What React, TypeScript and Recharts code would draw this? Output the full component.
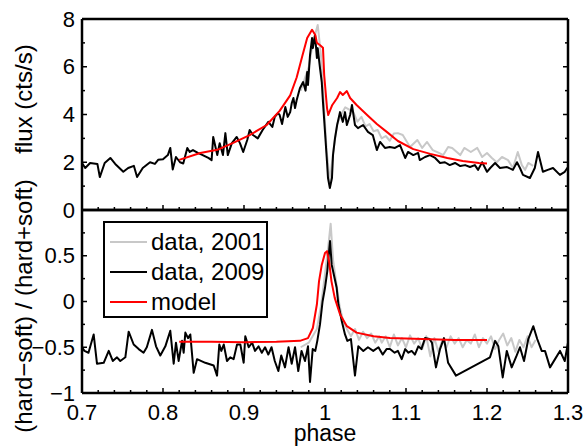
import React from 'react';
import { LineChart, Line, XAxis, YAxis } from 'recharts';

// phase / value pairs
const flux2001: [number, number][] = [
  [0.97, 5.0], [0.975, 5.5], [0.98, 6.0], [0.985, 7.0], [0.991, 7.75], [0.995, 6.5], [0.998, 4.8],
  [1.002, 2.5], [1.006, 1.2], [1.01, 2.4], [1.015, 3.6], [1.02, 4.0], [1.025, 4.3], [1.03, 4.2],
  [1.035, 4.1], [1.04, 3.7], [1.045, 3.9], [1.05, 3.5], [1.055, 3.6], [1.06, 3.3], [1.065, 3.35],
  [1.07, 3.0], [1.075, 3.1], [1.08, 2.9], [1.085, 3.2], [1.09, 3.22], [1.096, 3.14], [1.105, 2.64],
  [1.114, 2.93], [1.12, 2.6], [1.126, 2.85], [1.133, 2.51], [1.14, 2.4], [1.146, 2.3], [1.152, 2.64],
  [1.157, 2.6], [1.167, 2.3], [1.172, 2.6], [1.18, 2.43], [1.188, 2.6], [1.194, 2.22], [1.2, 2.39],
  [1.206, 2.18], [1.212, 2.0], [1.2185, 2.22], [1.226, 2.09], [1.232, 1.76], [1.238, 2.43],
  [1.243, 1.88], [1.247, 1.68], [1.251, 1.97], [1.257, 1.85],
];

const flux2009: [number, number][] = [
  [0.7, 1.97], [0.704, 1.76], [0.71, 1.97], [0.719, 1.93], [0.722, 1.38], [0.728, 1.97], [0.735, 2.18],
  [0.741, 1.93], [0.751, 1.6], [0.757, 1.76], [0.764, 1.85], [0.768, 1.38], [0.775, 1.76], [0.784, 2.0],
  [0.79, 1.93], [0.794, 2.1], [0.8, 2.13], [0.806, 2.3], [0.809, 2.6], [0.812, 1.7], [0.816, 2.22],
  [0.821, 2.0], [0.825, 1.95], [0.83, 2.6], [0.833, 2.43], [0.837, 2.51], [0.843, 2.39], [0.849, 2.3],
  [0.856, 2.18], [0.86, 2.09], [0.862, 3.06], [0.867, 2.3], [0.87, 2.8], [0.874, 2.3], [0.877, 3.22],
  [0.88, 2.3], [0.885, 2.8], [0.891, 3.06], [0.895, 2.8], [0.899, 2.43], [0.904, 2.93], [0.907, 3.35],
  [0.911, 3.14], [0.917, 3.0], [0.923, 3.35], [0.93, 3.69], [0.935, 3.48], [0.938, 3.9], [0.942, 4.06],
  [0.944, 3.98], [0.947, 3.6], [0.951, 4.31], [0.954, 3.9], [0.957, 4.1], [0.959, 4.48], [0.961, 4.69],
  [0.963, 4.27], [0.965, 4.6], [0.969, 5.1], [0.973, 5.36], [0.976, 5.0], [0.978, 5.78], [0.979, 5.24],
  [0.9815, 6.49], [0.984, 7.2], [0.985, 6.78], [0.9877, 7.33], [0.99, 6.37], [0.991, 6.78],
  [0.9938, 5.95], [0.996, 5.36], [0.9975, 4.52], [1.0, 3.27], [1.0025, 2.0], [1.0037, 1.34],
  [1.006, 0.92], [1.0086, 1.34], [1.0099, 2.3], [1.0123, 3.0], [1.015, 3.56], [1.0185, 4.1],
  [1.022, 3.69], [1.0247, 4.1], [1.027, 3.56], [1.031, 3.98], [1.0333, 4.4], [1.037, 3.56],
  [1.0407, 3.43], [1.047, 3.56], [1.053, 3.27], [1.059, 3.14], [1.064, 2.51], [1.068, 2.85],
  [1.074, 2.6], [1.08, 2.64], [1.0864, 2.6], [1.0926, 2.72], [1.099, 2.18], [1.1025, 2.43],
  [1.109, 2.3], [1.115, 2.39], [1.117, 2.09], [1.1235, 2.22], [1.1296, 2.3], [1.136, 2.18],
  [1.142, 1.97], [1.148, 2.0], [1.154, 1.88], [1.1605, 1.97], [1.167, 1.84], [1.173, 1.88],
  [1.179, 1.8], [1.185, 1.88], [1.189, 1.68], [1.194, 2.0], [1.2, 1.6], [1.204, 1.76], [1.21, 1.97],
  [1.216, 1.76], [1.2247, 1.8], [1.232, 1.68], [1.237, 2.0], [1.2407, 1.76], [1.2444, 1.47],
  [1.253, 1.34], [1.259, 1.76], [1.263, 2.43], [1.269, 1.6], [1.275, 1.68], [1.2815, 1.76],
  [1.29, 1.47], [1.296, 1.6], [1.3, 1.8],
];

const fluxModel: [number, number][] = [
  [0.82, 2.1], [0.846, 2.39], [0.867, 2.52], [0.886, 2.8], [0.907, 3.14], [0.928, 3.56], [0.944, 4.15],
  [0.957, 4.8], [0.965, 5.55], [0.972, 6.45], [0.978, 7.2], [0.984, 7.55], [0.988, 7.33], [0.99, 7.0],
  [0.994, 6.9], [0.9975, 6.8], [0.999, 5.65], [1.0025, 4.27], [1.004, 3.98], [1.009, 4.4],
  [1.015, 4.69], [1.0185, 4.94], [1.022, 4.82], [1.027, 4.98], [1.031, 4.69], [1.039, 4.4],
  [1.052, 3.98], [1.064, 3.6], [1.077, 3.25], [1.09, 2.89], [1.109, 2.55], [1.13, 2.35],
  [1.151, 2.18], [1.17, 2.05], [1.19, 1.97], [1.2, 1.95],
];

const hr2001: [number, number][] = [
  [0.97, -0.5], [0.98, -0.45], [0.99, -0.3], [0.995, -0.05], [1.0, 0.3], [1.004, 0.6], [1.007, 0.85],
  [1.01, 0.45], [1.014, 0.2], [1.018, -0.05], [1.022, -0.2], [1.027, -0.3], [1.032, -0.38],
  [1.037, -0.3], [1.042, -0.42], [1.047, -0.33], [1.052, -0.4], [1.057, -0.35], [1.062, -0.45],
  [1.067, -0.38], [1.07, -0.45], [1.075, -0.38], [1.08, -0.5], [1.085, -0.36], [1.09, -0.48],
  [1.095, -0.4], [1.1, -0.5], [1.105, -0.37], [1.11, -0.46], [1.115, -0.4], [1.12, -0.52],
  [1.125, -0.38], [1.13, -0.6], [1.135, -0.4], [1.14, -0.55], [1.145, -0.42], [1.15, -0.5],
  [1.155, -0.38], [1.16, -0.46], [1.165, -0.4], [1.17, -0.5], [1.175, -0.42], [1.18, -0.46],
  [1.185, -0.36], [1.19, -0.5], [1.195, -0.4], [1.2, -0.46], [1.205, -0.38], [1.21, -0.52],
  [1.215, -0.42], [1.22, -0.35], [1.225, -0.48], [1.23, -0.4], [1.235, -0.55], [1.24, -0.42],
  [1.245, -0.5], [1.25, -0.38], [1.255, -0.5], [1.26, -0.42],
];

const hr2009: [number, number][] = [
  [0.7, -0.5], [0.703, -0.54], [0.708, -0.56], [0.7144, -0.36], [0.7185, -0.68], [0.7268, -0.67],
  [0.733, -0.54], [0.738, -0.65], [0.7432, -0.61], [0.7473, -0.65], [0.7535, -0.61], [0.7576, -0.33],
  [0.7638, -0.47], [0.77, -0.52], [0.776, -0.56], [0.78, -0.5], [0.7864, -0.31], [0.7914, -0.49],
  [0.7967, -0.59], [0.8029, -0.49], [0.809, -0.32], [0.8132, -0.68], [0.816, -0.45], [0.8193, -0.65],
  [0.8235, -0.43], [0.8255, -0.56], [0.8276, -0.34], [0.8309, -0.4], [0.8337, -0.36], [0.8379, -0.78],
  [0.842, -0.63], [0.8522, -0.67], [0.8626, -0.7], [0.8667, -0.81], [0.8695, -0.47], [0.872, -0.54],
  [0.875, -0.47], [0.879, -0.65], [0.883, -0.61], [0.8872, -0.63], [0.8914, -0.47], [0.8955, -0.47],
  [0.8996, -0.67], [0.9016, -0.38], [0.9058, -0.5], [0.91, -0.45], [0.9136, -0.54], [0.918, -0.49],
  [0.922, -0.56], [0.926, -0.5], [0.93, -0.58], [0.934, -0.5], [0.938, -0.65], [0.9424, -0.76],
  [0.946, -0.59], [0.9506, -0.72], [0.955, -0.5], [0.9589, -0.68], [0.963, -0.5], [0.967, -0.76],
  [0.971, -0.54], [0.9753, -0.65], [0.979, -0.49], [0.9815, -0.88], [0.9848, -0.52], [0.988, -0.54],
  [0.9905, -0.43], [0.9938, -0.25], [0.997, 0.0], [1.0, 0.15], [1.0028, 0.33], [1.0062, 0.66],
  [1.0083, 0.4], [1.011, 0.29], [1.0144, 0.15], [1.0165, -0.03], [1.0206, -0.21], [1.0247, -0.36],
  [1.0276, -0.43], [1.032, -0.41], [1.037, -0.81], [1.0411, -0.49], [1.0473, -0.54], [1.053, -0.5],
  [1.0596, -0.54], [1.066, -0.5], [1.0712, -0.58], [1.076, -0.52], [1.0802, -0.52], [1.086, -0.56],
  [1.09, -0.54], [1.0947, -0.63], [1.099, -0.52], [1.103, -0.56], [1.107, -0.54], [1.111, -0.58],
  [1.1152, -0.49], [1.119, -0.52], [1.1235, -0.4], [1.129, -0.41], [1.132, -0.45], [1.137, -0.72],
  [1.142, -0.52], [1.1469, -0.4], [1.152, -0.67], [1.1617, -0.81], [1.2037, -0.61], [1.21, -0.43],
  [1.214, -0.49], [1.2194, -0.83], [1.2244, -0.54], [1.2305, -0.72], [1.2367, -0.59], [1.2407, -0.5],
  [1.2457, -0.65], [1.251, -0.41], [1.2572, -0.27], [1.262, -0.41], [1.2675, -0.54], [1.2716, -0.54],
  [1.2778, -0.72], [1.284, -0.63], [1.2901, -0.54], [1.296, -0.65], [1.3, -0.45],
];

const hrModel: [number, number][] = [
  [0.82, -0.44], [0.86, -0.44], [0.9, -0.445], [0.94, -0.44], [0.969, -0.43], [0.979, -0.4],
  [0.985, -0.29], [0.99, -0.03], [0.9926, 0.22], [0.996, 0.4], [1.0, 0.53], [1.0025, 0.55],
  [1.005, 0.44], [1.008, 0.22], [1.012, 0.04], [1.0185, -0.14], [1.027, -0.27], [1.039, -0.34],
  [1.06, -0.38], [1.08, -0.4], [1.12, -0.41], [1.16, -0.42], [1.2, -0.42],
];

// axis ticks (minor + major) and labelled values
const phaseTicks = [
  0.7, 0.72, 0.74, 0.76, 0.78, 0.8, 0.82, 0.84, 0.86, 0.88, 0.9, 0.92, 0.94, 0.96, 0.98, 1.0,
  1.02, 1.04, 1.06, 1.08, 1.1, 1.12, 1.14, 1.16, 1.18, 1.2, 1.22, 1.24, 1.26, 1.28, 1.3,
];
const phaseMajor = [0.7, 0.8, 0.9, 1.0, 1.1, 1.2, 1.3];
const fluxTicks = [0, 1, 2, 3, 4, 5, 6, 7, 8];
const fluxMajor = [0, 2, 4, 6, 8];
const hrTicks = [-1, -0.75, -0.5, -0.25, 0, 0.25, 0.5, 0.75, 1];
const hrMajor = [-1, -0.5, 0, 0.5, 1];
const hrLabelled = [-1, -0.5, 0, 0.5];

const legendItems = [
  { name: 'data, 2001', color: '#c8c8c8' },
  { name: 'data, 2009', color: '#000000' },
  { name: 'model', color: '#ff0000' },
];

const FONT = '"Liberation Sans", Arial, Helvetica, sans-serif';
const W = 587;

const toPoints = (d: [number, number][]) => d.map(([x, y]) => ({ x, y }));
const has = (list: number[], v: number) => list.some((m) => Math.abs(m - v) < 1e-9);
const fmt = (v: number) => (v < 0 ? '\u2212' + Math.abs(v) : String(v));

function AxisTick(props: any) {
  const { x, y, payload, side, major, labelled } = props;
  const v = payload.value;
  const len = has(major, v) ? 5 : 3;
  const showLabel = labelled && has(labelled, v);
  let line = null;
  let label = null;
  if (side === 'left') {
    line = <line x1={x} x2={x + len} y1={y} y2={y} />;
    if (showLabel)
      label = <text x={x - 7} y={y} textAnchor="end" dominantBaseline="central">{fmt(v)}</text>;
  } else if (side === 'right') {
    line = <line x1={x} x2={x - len} y1={y} y2={y} />;
  } else if (side === 'top') {
    line = <line x1={x} x2={x} y1={y} y2={y + len} />;
  } else {
    line = <line x1={x} x2={x} y1={y} y2={y - len} />;
    if (showLabel)
      label = <text x={x} y={y + 27} textAnchor="middle">{fmt(v)}</text>;
  }
  return (
    <g>
      <g stroke="#000" strokeWidth={1.5}>{line}</g>
      {label && <g fill="#000" fontSize={22} fontFamily={FONT}>{label}</g>}
    </g>
  );
}

const axisLine = { stroke: '#000', strokeWidth: 2.5 };

function Panel(props: {
  height: number;
  topH: number;
  bottomH: number;
  yDomain: [number, number];
  yTicks: number[];
  yMajor: number[];
  yLabelled: number[];
  xLabelled: number[] | null;
  series: { data: [number, number][]; color: string }[];
  yLabel: string;
  yLabelY: number;
  xLabel?: string;
}) {
  const p = props;
  return (
    <LineChart width={W} height={p.height} margin={{ top: 0, right: 0, bottom: 0, left: 0 }}>
      <XAxis
        xAxisId="b" type="number" dataKey="x" domain={[0.7, 1.3]} allowDataOverflow
        ticks={phaseTicks} interval={0} tickSize={0} tickMargin={0} tickLine={false}
        height={p.bottomH} axisLine={axisLine}
        tick={(t: any) => <AxisTick {...t} side="bottom" major={phaseMajor} labelled={p.xLabelled} />}
        label={p.xLabel ? {
          content: () => (
            <text x={325} y={p.height - 5} textAnchor="middle" fontSize={23} fontFamily={FONT} fill="#000">{p.xLabel}</text>
          ),
        } : undefined}
      />
      <XAxis
        xAxisId="t" orientation="top" type="number" domain={[0.7, 1.3]} allowDataOverflow
        ticks={phaseTicks} interval={0} tickSize={0} tickMargin={0} tickLine={false}
        height={p.topH} axisLine={axisLine}
        tick={(t: any) => <AxisTick {...t} side="top" major={phaseMajor} labelled={null} />}
      />
      <YAxis
        yAxisId="l" type="number" domain={p.yDomain} allowDataOverflow
        ticks={p.yTicks} interval={0} tickSize={0} tickMargin={0} tickLine={false}
        width={82} axisLine={axisLine}
        tick={(t: any) => <AxisTick {...t} side="left" major={p.yMajor} labelled={p.yLabelled} />}
        label={{
          content: () => (
            <text x={32} y={p.yLabelY} transform={`rotate(-90, 32, ${p.yLabelY})`} textAnchor="middle"
              fontSize={24} fontFamily={FONT} fill="#000">{p.yLabel}</text>
          ),
        }}
      />
      <YAxis
        yAxisId="r" orientation="right" type="number" domain={p.yDomain} allowDataOverflow
        ticks={p.yTicks} interval={0} tickSize={0} tickMargin={0} tickLine={false}
        width={19} axisLine={axisLine}
        tick={(t: any) => <AxisTick {...t} side="right" major={p.yMajor} labelled={null} />}
      />
      {p.series.map((s, i) => (
        <Line
          key={i} xAxisId="b" yAxisId="l" data={toPoints(s.data)} dataKey="y" type="linear"
          stroke={s.color} strokeWidth={2} dot={false} activeDot={false}
          strokeLinejoin="round" isAnimationActive={false}
        />
      ))}
    </LineChart>
  );
}

export default function App() {
  return (
    <div style={{ position: 'absolute', left: 0, top: 0, width: W, height: 446, background: '#fff', overflow: 'hidden' }}>
      <div style={{ position: 'absolute', left: 0, top: 0 }}>
        <Panel
          height={230} topH={19} bottomH={20} yDomain={[0, 8]}
          yTicks={fluxTicks} yMajor={fluxMajor} yLabelled={fluxMajor} xLabelled={null}
          series={[
            { data: flux2001, color: legendItems[0].color },
            { data: flux2009, color: legendItems[1].color },
            { data: fluxModel, color: legendItems[2].color },
          ]}
          yLabel="flux (cts/s)" yLabelY={99}
        />
      </div>
      <div style={{ position: 'absolute', left: 0, top: 150 }}>
        <Panel
          height={296} topH={60} bottomH={53} yDomain={[-1, 1]}
          yTicks={hrTicks} yMajor={hrMajor} yLabelled={hrLabelled} xLabelled={phaseMajor}
          series={[
            { data: hr2001, color: legendItems[0].color },
            { data: hr2009, color: legendItems[1].color },
            { data: hrModel, color: legendItems[2].color },
          ]}
          yLabel={'(hard\u2212soft) / (hard+soft)'} yLabelY={156} xLabel="phase"
        />
      </div>
      <div
        style={{
          position: 'absolute', left: 103, top: 221, width: 165, height: 97, boxSizing: 'border-box',
          border: '2px solid #000', background: '#fff', fontFamily: FONT, fontSize: 24,
        }}
      >
        {legendItems.map((it, i) => (
          <div key={it.name} style={{ position: 'absolute', left: 0, top: 3.7 + 30 * i, height: 30, width: 161 }}>
            <div style={{ position: 'absolute', left: 5, top: 14, width: 37, height: 2, background: it.color }} />
            <div style={{ position: 'absolute', left: 46, top: 0, lineHeight: '30px', whiteSpace: 'nowrap' }}>{it.name}</div>
          </div>
        ))}
      </div>
    </div>
  );
}
